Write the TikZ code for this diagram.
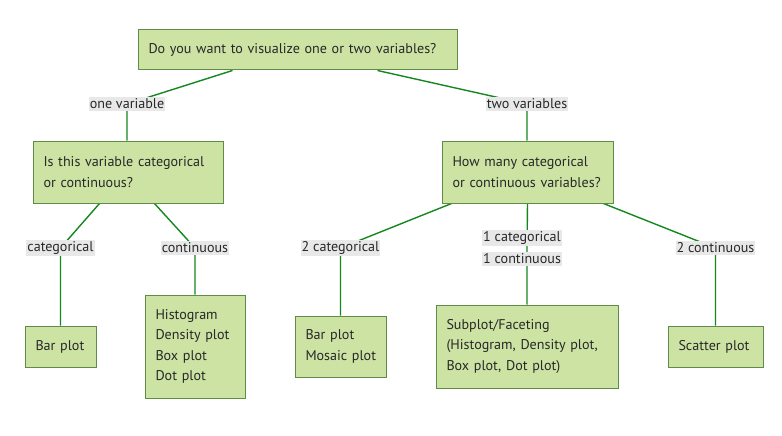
\documentclass[tikz,border=0pt]{standalone}
\usepackage{fontspec}
\setmainfont{PT Sans}
\usetikzlibrary{backgrounds}
\definecolor{boxfill}{RGB}{205,227,164}
\definecolor{boxdraw}{RGB}{95,140,70}
\definecolor{edgecol}{RGB}{20,135,30}
\definecolor{labfill}{RGB}{232,232,232}
\definecolor{txt}{RGB}{40,40,40}
\tikzset{
  box/.style={draw=boxdraw, fill=boxfill, line width=1pt, rectangle, align=left,
    inner xsep=10.5pt, inner ysep=0pt, text=txt,
    font=\fontsize{14.1}{20.5}\selectfont},
  lab/.style={fill=labfill, inner xsep=1pt, inner ysep=1.5pt, text=txt,
    font=\fontsize{14.1}{15}\selectfont},
  edge/.style={draw=edgecol, line width=1.4pt}
}
\begin{document}
\begin{tikzpicture}[x=1pt,y=1pt]
\useasboundingbox (0,0) rectangle (782,-436);
\node[box, text width=298pt, minimum height=40pt] (top) at (297.5,-50) {\mbox{Do you want to visualize one or two variables?}};
\node[box, text width=169pt, minimum height=62pt] (q1) at (128,-172) {\mbox{Is this variable categorical}\\\mbox{or continuous?}};
\node[box, text width=150pt, minimum height=62pt] (q2) at (527.5,-172) {\mbox{How many categorical}\\\mbox{or continuous variables?}};
\node[box, text width=50pt, minimum height=41pt] (bar1) at (60.5,-346.5) {\mbox{Bar plot}};
\node[box, text width=79pt, minimum height=103pt] (hist) at (195,-346.5) {Histogram\\\mbox{Density plot}\\\mbox{Box plot}\\\mbox{Dot plot}};
\node[box, text width=70pt, minimum height=61pt] (mos) at (340.5,-346.5) {\mbox{Bar plot}\\\mbox{Mosaic plot}};
\node[box, text width=161pt, minimum height=83pt] (sub) at (527,-346.5) {Subplot/Faceting\\\mbox{(Histogram, Density plot,}\\\mbox{Box plot, Dot plot)}};
\node[box, text width=74pt, minimum height=41pt] (sca) at (715.5,-346.5) {\mbox{Scatter plot}};

\node[lab] (l1) at (127,-104) {one variable};
\node[lab] (l2) at (527,-104) {two variables};
\node[lab] (l3) at (60.5,-248) {categorical};
\node[lab] (l4) at (195,-248) {continuous};
\node[lab] (l5) at (340.5,-248) {2 categorical};
\node[lab, anchor=west] (l6a) at (482,-238) {1 categorical};
\node[lab, anchor=west] (l6b) at (482,-259) {1 continuous};
\node[lab] (l7) at (715.5,-248) {2 continuous};
\coordinate (m6) at (527,-248);

\begin{scope}[on background layer]
\draw[edge] ([xshift=95pt]top.south west) -- (l1.center) -- (l1.center |- q1.north);
\draw[edge] ([xshift=240pt]top.south west) -- (l2.center) -- (l2.center |- q2.north);
\draw[edge] ([xshift=67pt]q1.south west) -- (l3.center) -- (l3.center |- bar1.north);
\draw[edge] ([xshift=122pt]q1.south west) -- (l4.center) -- (hist.north);
\draw[edge] ([xshift=10pt]q2.south west) -- (l5.center) -- (mos.north);
\draw[edge] (q2.south) -- (m6) -- (sub.north);
\draw[edge] ([xshift=-10pt]q2.south east) -- (l7.center) -- (sca.north);
\end{scope}
\end{tikzpicture}
\end{document}
